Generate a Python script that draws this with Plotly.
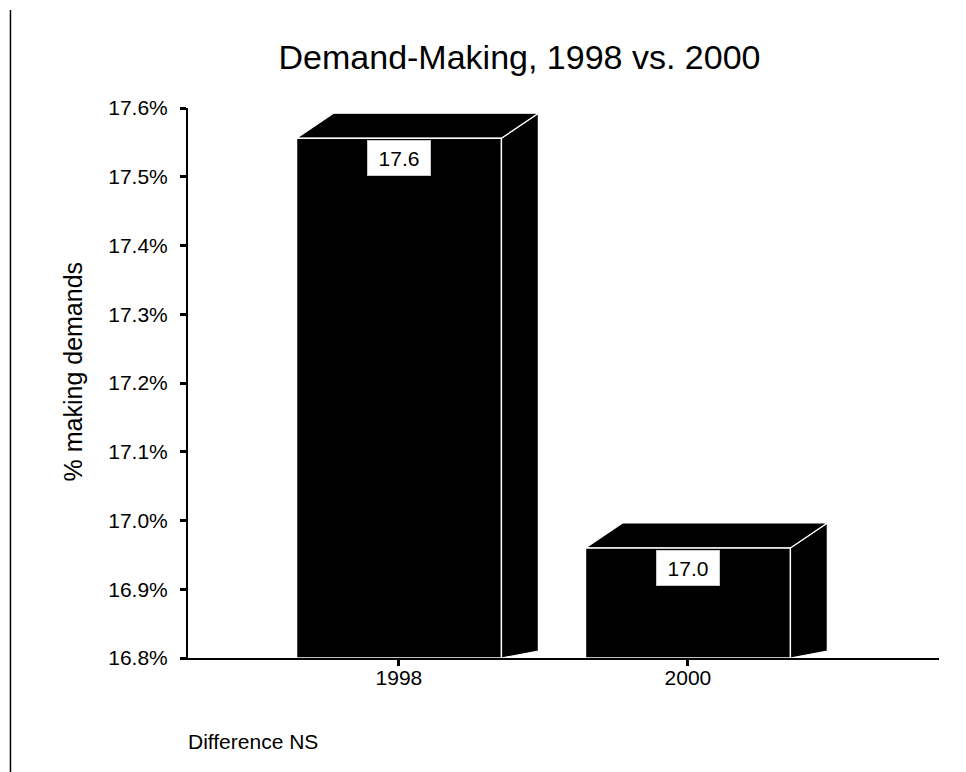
import plotly.graph_objects as go

# --- data -------------------------------------------------------------
years = ["1998", "2000"]
pct_making_demands = [17.556, 16.96]
y_ticks = [16.8, 16.9, 17.0, 17.1, 17.2, 17.3, 17.4, 17.5, 17.6]
y_tick_text = ["16.8%", "16.9%", "17.0%", "17.1%", "17.2%", "17.3%", "17.4%", "17.5%", "17.6%"]
title_text = "Demand-Making, 1998 vs. 2000"
y_title = "% making demands"
note_text = "Difference NS"

# --- styling of the pseudo-3D boxes ----------------------------------
BASE = 16.8          # floor of the value axis
BAR_W = 0.709        # front face width (category units)
DEPTH_X = 0.128      # receding offset, x
DEPTH_Y = 0.0364     # receding offset, y
FLOOR_Y = 0.0102     # slant of the side face bottom edge
FONT = "Liberation Sans, Arial, sans-serif"

fig = go.Figure()

for i, v in enumerate(pct_making_demands):
    xl, xr = i - BAR_W / 2, i + BAR_W / 2
    # right side face
    fig.add_trace(go.Scatter(
        x=[xr, xr + DEPTH_X, xr + DEPTH_X, xr, xr],
        y=[BASE, BASE + FLOOR_Y, v + DEPTH_Y, v, BASE],
        mode="lines", fill="toself", fillcolor="black",
        line=dict(color="white", width=1.2),
        hoverinfo="skip", showlegend=False,
    ))
    # top face
    fig.add_trace(go.Scatter(
        x=[xl, xl + DEPTH_X, xr + DEPTH_X, xr, xl],
        y=[v, v + DEPTH_Y, v + DEPTH_Y, v, v],
        mode="lines", fill="toself", fillcolor="black",
        line=dict(color="white", width=1.2),
        hoverinfo="skip", showlegend=False,
    ))
    # front face
    fig.add_trace(go.Scatter(
        x=[xl, xl, xr, xr, xl],
        y=[BASE, v, v, BASE, BASE],
        mode="lines", fill="toself", fillcolor="black",
        line=dict(color="white", width=1.5),
        hoverinfo="skip", showlegend=False,
    ))
    # value label box
    fig.add_annotation(
        x=i, y=v, xref="x", yref="y",
        text=f"{v:.1f}", showarrow=False,
        yanchor="top", yshift=-2,
        bgcolor="white", bordercolor="#c8c8c8", borderwidth=1,
        width=60, height=32,
        font=dict(family=FONT, size=21, color="black"),
    )

# y-axis title
fig.add_annotation(
    text=y_title, xref="paper", yref="paper",
    x=-0.1531, y=0.521, xanchor="center", yanchor="middle",
    textangle=-90, showarrow=False,
    font=dict(family=FONT, size=25, color="black"),
)

# footnote
fig.add_annotation(
    text=note_text, xref="paper", yref="paper",
    x=0, y=-0.1527, xanchor="left", yanchor="middle", xshift=-2,
    showarrow=False,
    font=dict(family=FONT, size=21, color="black"),
)

# frame line at the left edge of the page
fig.add_shape(
    type="line", xref="paper", yref="paper",
    x0=-0.2364, x1=-0.2364, y0=1.178, y1=-0.3,
    line=dict(color="black", width=1.5),
)

fig.update_layout(
    width=966, height=772,
    margin=dict(l=188, r=27, t=108, b=114),
    paper_bgcolor="white", plot_bgcolor="white",
    title=dict(
        text=title_text, xref="container", yref="container",
        x=0.5378, y=0.926, xanchor="center", yanchor="middle",
        font=dict(family=FONT, size=34, color="black"),
    ),
    xaxis=dict(
        range=[-0.73, 1.869], tickvals=[0, 1], ticktext=years,
        showgrid=False, zeroline=False,
        showline=True, linecolor="black", linewidth=2,
        ticks="outside", ticklen=6, tickwidth=3, tickcolor="black",
        tickfont=dict(family=FONT, size=21, color="black"),
        ticklabelstandoff=-6,
    ),
    yaxis=dict(
        range=[16.8, 17.6], tickvals=y_ticks, ticktext=y_tick_text,
        showgrid=False, zeroline=False,
        showline=True, linecolor="black", linewidth=2,
        ticks="outside", ticklen=6, tickwidth=3, tickcolor="black",
        tickfont=dict(family=FONT, size=21, color="black"),
        ticklabelstandoff=8,
    ),
)

fig.write_html("out.html")
